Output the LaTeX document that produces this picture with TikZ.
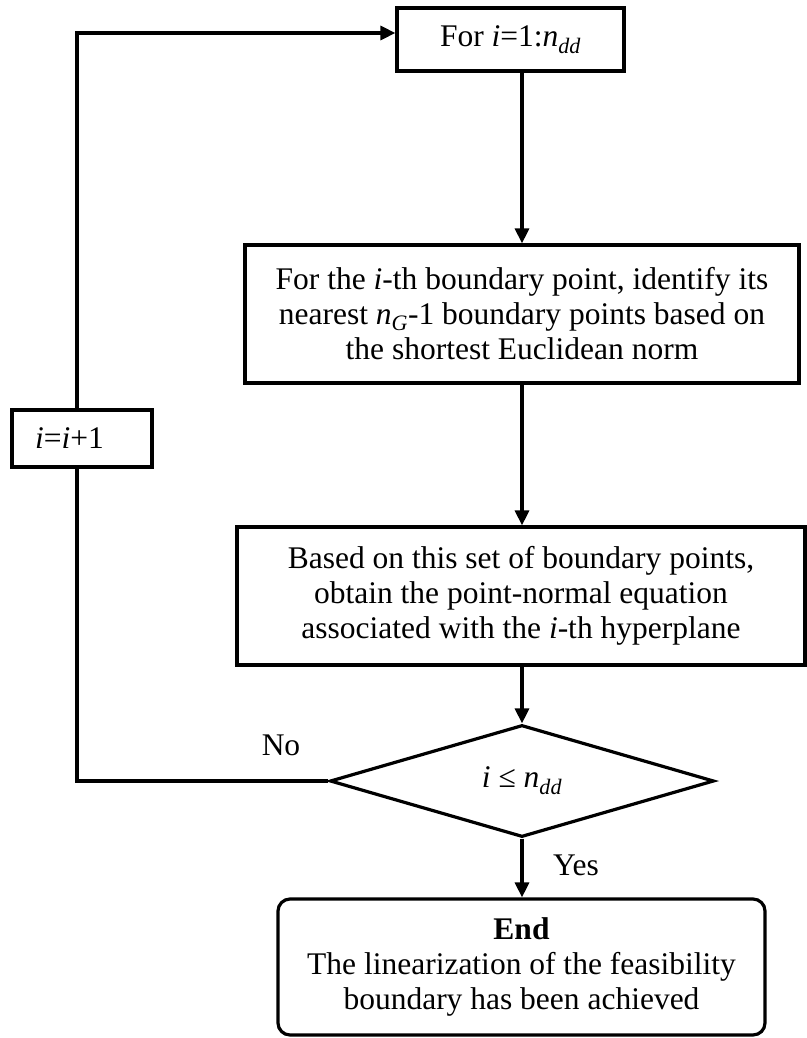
\documentclass[tikz,border=0pt]{standalone}
\usepackage{fontspec}
\setmainfont{Liberation Serif}
\usetikzlibrary{arrows.meta,shapes.geometric}
\begin{document}
\begin{tikzpicture}[x=1pt,y=-1pt,
  every node/.style={font=\fontsize{31.5}{35}\selectfont},
  box/.style={draw,line width=3.2pt,rectangle,inner sep=0pt,align=center},
  conn/.style={line width=3.2pt},
  arr/.style={conn,-{Triangle[length=15pt,width=14pt]}},
  lbl/.style={inner sep=0pt}]
\useasboundingbox (0,0) rectangle (806,1038);
\node[box,minimum width=227pt,minimum height=63pt] (for) at (510.5,39.5)
  {For \textit{i}=1:\textit{n}\textsubscript{\textit{dd}}};
\node[box,minimum width=554pt,minimum height=138pt] (b2) at (522,314)
  {For the \textit{i}-th boundary point, identify its\\
   nearest \textit{n}\textsubscript{\textit{G}}-1 boundary points based on\\
   the shortest Euclidean norm};
\node[box,minimum width=568pt,minimum height=138pt] (b3) at (521,596)
  {Based on this set of boundary points,\\
   obtain the point-normal equation\\
   associated with the \textit{i}-th hyperplane};
\node[box,diamond,minimum width=384pt,minimum height=112pt] (dec) at (522,781)
  {\textit{i} ≤ \textit{n}\textsubscript{\textit{dd}}};
\node[box,rounded corners=12pt,minimum width=487pt,minimum height=136pt] (end) at (521.5,967)
  {\textbf{End}\\The linearization of the feasibility\\boundary has been achieved};
\node[box,minimum width=140pt,minimum height=57pt,text width=94pt,align=left] (inc) at (82,438.5)
  {\textit{i}=\textit{i}+1};
\coordinate (lx) at (77,33);
\draw[arr] (for.south -| b2.north) -- (b2.north);
\draw[arr] (b2.south) -- (b2.south |- b3.north);
\draw[arr] (b3.south -| dec.north) -- (dec.north);
\draw[arr] (dec.south) -- (dec.south |- end.north);
\draw[conn] (dec.west) -- (dec.west -| lx) -- (lx |- inc.south);
\draw[arr] (lx |- inc.north) -- (lx) -- (lx -| for.west);
\node[lbl] (no) at (281,745) {No};
\node[lbl] (yes) at (576,865) {Yes};
\end{tikzpicture}
\end{document}
